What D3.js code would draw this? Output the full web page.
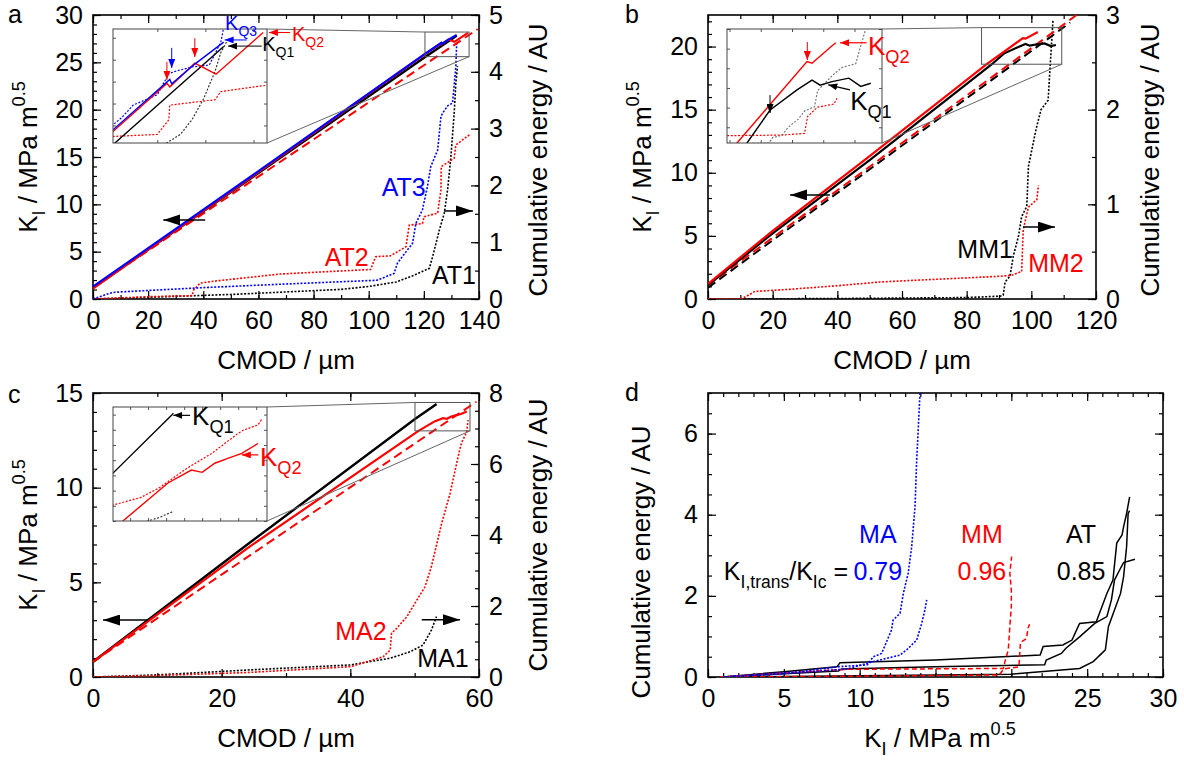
<!DOCTYPE html>
<html>
<head>
<meta charset="utf-8">
<script src="https://cdn.jsdelivr.net/npm/d3@7"></script>
<style>
body { margin: 0; background: #fff; }
svg { font-family: "Liberation Sans", Arial, sans-serif; }
</style>
</head>
<body>
<script>
const RED = '#ff0000', BLUE = '#0000ff', BLK = '#000000';
const TICK_FS = 25, TITLE_FS = 26, NOTE_FS = 25;

// ---- panel a : AT samples, K_I and cumulative energy vs CMOD
const aK_AT1 = [[0,1.2],[60,13.3],[120.6,25.6],[131.9,27.8]];
const aK_AT2 = [[0,1.1],[60,13.4],[120.4,25.86],[126.0,26.96],[126.3,26.88],[128.9,27.42],[131.1,27.17],[136.0,28.12]];
const aK_AT3 = [[0,1.3],[60,13.5],[120.4,25.9],[124.5,26.7],[126.3,27.05],[126.5,26.95],[128.9,27.4],[131.9,27.9]];
const aK_fit = [[0,1.2],[139.5,28.5]];
const aE_AT1 = [[0,0],[20,0.03],[50,0.08],[68,0.12],[90,0.17],[100,0.22],[110,0.3],[116.5,0.42],[122,0.54],[123.2,0.75],[125.6,1.21],[127.4,1.51],[128.6,1.92],[129.8,2.5],[131,3.27],[131.6,3.8],[132.2,4.1]];
const aE_AT2 = [[0,0],[10,0.02],[20,0.04],[36,0.06],[36.5,0.16],[38.9,0.28],[45,0.32],[68,0.44],[100.7,0.52],[102.5,0.745],[107.9,0.76],[113.5,0.92],[114.7,1.3],[119.5,1.33],[120.1,1.45],[125,1.51],[126.2,1.92],[126.3,2.33],[131,2.48],[131.6,2.71],[134,2.8],[136.5,2.89]];
const aE_AT3 = [[0,0],[3,0.05],[6,0.1],[8,0.12],[20,0.15],[40,0.2],[68,0.26],[103,0.33],[109.2,0.45],[110.4,0.63],[113.5,0.83],[115.9,0.98],[117.1,1.33],[119.5,1.57],[121.3,1.98],[122.5,2.33],[125,2.62],[126.2,3.21],[126.8,3.27],[128.6,3.4],[130.4,3.45],[131.6,4.09],[131.9,4.5]];

// ---- panel b : MM samples
const bK_MM1 = [[0,1.1],[20,5.2],[50,11.0],[87.8,18.6],[91.5,19.44],[95.8,19.95],[98.2,20.2],[99.5,20.07],[101.4,20.16],[104.1,20.25],[106,20.04],[107.6,20.12]];
const bK_MM2 = [[0,1.2],[20,5.4],[49.1,11.15],[86.2,18.6],[97.4,20.67],[98.2,20.63],[101.6,21.1],[102,21.15]];
const bK_fit1 = [[0,0.9],[112,21.9]];
const bK_fit2 = [[0,1.1],[114,22.5]];
const bE_MM1 = [[0,0],[40,0.005],[80,0.015],[90.3,0.03],[91.3,0.04],[91.9,0.18],[93.4,0.24],[94.4,0.45],[96,0.66],[97,0.87],[98.6,0.98],[99.1,1.4],[100.3,1.6],[101.5,1.8],[103,2.0],[105.2,2.1],[105.8,2.45],[106.2,2.67],[106.7,2.95]];
const bE_MM2 = [[0,0],[10,0],[12,0.03],[14.5,0.08],[24.3,0.1],[40,0.14],[53.2,0.18],[90.3,0.24],[93.9,0.25],[97,0.29],[97.5,0.73],[98.6,0.9],[99.1,0.97],[101.7,1.05],[102.2,1.2]];

// ---- panel c : MA samples
const cK_MA1 = [[0,0.8],[24.4,7.1],[50.05,13.63],[53.3,14.39],[53.4,14.42]];
const cK_MA2 = [[0,0.8],[24.4,6.9],[50.6,13.0],[53.1,13.5],[54.4,13.67],[55.0,13.64],[55.7,13.76],[56.5,13.83],[57.2,13.89],[58.1,14.02]];
const cK_fit = [[0,0.8],[59.6,14.54]];
const cE_MA1 = [[0,0],[10,0.06],[24.4,0.2],[40,0.34],[46.2,0.53],[49.3,0.71],[51.3,0.9],[52.6,1.32],[53.4,1.7]];
const cE_MA2 = [[0,0],[10,0.04],[24.4,0.13],[40,0.29],[45.1,0.57],[46.2,0.76],[46.4,1.23],[47.2,1.37],[48.8,1.7],[50.05,2.08],[51.6,2.54],[52.6,3.11],[54.2,4.33],[55.5,5.17],[56.3,5.83],[57.0,6.4],[57.3,6.6],[58.1,6.91],[58.3,7.24]];

// ---- panel d : cumulative energy vs K_I
const dMA1 = [[1,0],[6.06,0.13],[8.5,0.25],[10.5,0.3],[10.9,0.5],[11.45,0.58],[12.1,1.16],[12.2,1.4],[12.66,1.57],[12.88,2.06],[13.2,2.56],[13.43,3.21],[13.65,4.2],[13.76,5.35],[13.98,7.0]];
const dMA2 = [[1,0],[5,0.08],[9.2,0.2],[10.9,0.38],[12.66,0.54],[13.1,0.67],[13.76,0.91],[14.09,1.32],[14.3,1.65],[14.42,1.9]];
const dMM1 = [[0.8,0],[5,0.1],[9.15,0.19],[19.47,0.21],[19.58,0.38],[19.8,0.67],[19.9,1.24],[20.0,1.73],[20.0,2.14],[19.9,2.56],[20.02,2.97]];
const dMM2 = [[0.8,0],[10,0.02],[19.2,0.05],[19.5,0.2],[20.5,0.25],[20.6,0.85],[21.0,0.95],[21.1,1.2],[21.2,1.3]];
const dAT1 = [[1,0],[5,0.13],[8.5,0.25],[8.7,0.35],[15,0.42],[21.9,0.54],[22.1,0.75],[23.4,0.79],[24.0,0.91],[24.5,1.32],[25.6,1.36],[26.3,2.06],[26.7,2.39],[26.95,3.3],[27.3,3.5],[27.4,3.7],[27.6,4.03],[27.8,4.44]];
const dAT2 = [[1,0],[5,0.08],[8.6,0.15],[8.8,0.2],[15,0.25],[22.2,0.3],[22.3,0.42],[23.3,0.58],[23.6,0.71],[24.5,0.99],[25.5,1.32],[26.3,1.49],[26.6,1.9],[26.8,2.39],[27.2,2.68],[27.4,2.82],[28.15,2.9]];
const dAT3 = [[1,0],[10,0.03],[20,0.07],[24.5,0.21],[25.4,0.38],[26.2,0.67],[26.4,1.24],[27.2,2.06],[27.4,2.47],[27.6,3.21],[27.7,4.03],[27.8,4.1]];
const dRatios = [['MA','0.79',BLUE,11.2],['MM','0.96',RED,18.06],['AT','0.85',BLK,24.6]];

const svg = d3.select('body').append('svg').attr('width', 1184).attr('height', 760);
const defs = svg.append('defs');

function marker(id, color, w, h) {
  defs.append('marker').attr('id', id).attr('viewBox', '0 0 10 10')
    .attr('refX', 10).attr('refY', 5).attr('markerUnits', 'userSpaceOnUse')
    .attr('markerWidth', w).attr('markerHeight', h).attr('orient', 'auto')
    .attr('preserveAspectRatio', 'none')
    .append('path').attr('d', 'M0,0L10,5L0,10z').attr('fill', color);
}
marker('bigK', BLK, 17, 11);
marker('smK', BLK, 9, 7);
marker('smR', RED, 9, 7);
marker('smB', BLUE, 9, 7);

function axisSet(g, gen, sc, step, tr, labels, size, fs, pad) {
  const [d0, d1] = sc.domain();
  const maj = d3.range(d0, d1 + 1e-9, step[0]);
  const mnr = d3.range(d0, d1 + 1e-9, step[1]);
  g.append('g').attr('transform', tr)
    .call(gen(sc).tickValues(mnr).tickSize(-size / 2).tickFormat(''))
    .call(s => s.select('.domain').remove())
    .selectAll('line').attr('stroke-width', 1.2);
  const a = g.append('g').attr('transform', tr)
    .call(gen(sc).tickValues(maj).tickSize(-size).tickPadding(pad || 10)
      .tickFormat(labels ? d3.format('d') : ''))
    .attr('font-size', fs).attr('font-family', null)
    .call(s => s.select('.domain').remove());
  a.selectAll('line').attr('stroke-width', 1.2);
  a.selectAll('text').attr('fill', BLK);
}

function frame(o) {
  const g = svg.append('g');
  const x = d3.scaleLinear().domain(o.xd).range([o.l, o.r]);
  const y = d3.scaleLinear().domain(o.yd).range([o.b, o.t]);
  const y2 = o.y2d ? d3.scaleLinear().domain(o.y2d).range([o.b, o.t]) : null;
  const id = 'clip' + o.name;
  defs.append('clipPath').attr('id', id).append('rect')
    .attr('x', o.l).attr('y', o.t).attr('width', o.r - o.l).attr('height', o.b - o.t);
  axisSet(g, d3.axisBottom, x, o.xt, `translate(0,${o.b})`, true, 8, TICK_FS, 12);
  axisSet(g, d3.axisTop, x, o.xt, `translate(0,${o.t})`, false, 8, TICK_FS);
  axisSet(g, d3.axisLeft, y, o.yt, `translate(${o.l},0)`, true, 8, TICK_FS);
  if (y2) axisSet(g, d3.axisRight, y2, o.y2t, `translate(${o.r},0)`, true, 8, TICK_FS);
  else axisSet(g, d3.axisRight, y, o.yt, `translate(${o.r},0)`, false, 8, TICK_FS);
  g.append('rect').attr('x', o.l).attr('y', o.t).attr('width', o.r - o.l).attr('height', o.b - o.t)
    .attr('fill', 'none').attr('stroke', BLK).attr('stroke-width', 1.6);
  g.append('text').attr('x', o.letter[0]).attr('y', o.letter[1]).attr('font-size', 25).text(o.name);
  return { g, x, y, y2, o, clip: `url(#${id})` };
}

function rich(g, px, py, parts, color, fs, anchor) {
  const t = g.append('text').attr('x', px).attr('y', py).attr('fill', color)
    .attr('font-size', fs).attr('text-anchor', anchor || 'start');
  let shift = 0;
  parts.forEach(([s, k]) => {
    const target = k === 'sub' ? fs * 0.3 : k === 'sup' ? -fs * 0.45 : 0;
    t.append('tspan').text(s).attr('dy', target - shift)
      .attr('font-size', k === 'n' ? fs : fs * 0.7);
    shift = target;
  });
  return t;
}

const KI = [['K','n'],['I','sub'],[' / MPa m','n'],['0.5','sup']];
const CE = [['Cumulative energy / AU','n']];
const CM = [['CMOD / µm','n']];

function vtitle(g, cx, cy, parts) {
  rich(g, 0, 9, parts, BLK, TITLE_FS, 'middle').attr('transform', `translate(${cx},${cy}) rotate(-90)`);
}

function curve(g, data, x, y, color, kind, w, clip) {
  const dash = kind === 'dash' ? '9,5' : kind === 'dot' ? '2,1.6' : kind === 'dash2' ? '5,3' : null;
  g.append('path').datum(data)
    .attr('d', d3.line().x(d => x(d[0])).y(d => y(d[1])))
    .attr('fill', 'none').attr('stroke', color).attr('stroke-width', w)
    .attr('stroke-dasharray', dash).attr('clip-path', clip);
}

function arrow(g, x, y, p0, p1, mk, color, w) {
  g.append('line').attr('x1', x(p0[0])).attr('y1', y(p0[1]))
    .attr('x2', x(p1[0])).attr('y2', y(p1[1]))
    .attr('stroke', color).attr('stroke-width', w).attr('marker-end', `url(#${mk})`);
}

function inset(p, o) {
  const g = p.g.append('g');
  const x = d3.scaleLinear().domain(o.xd).range([o.l, o.r]);
  const y = d3.scaleLinear().domain(o.yd).range([o.b, o.t]);
  const y2 = d3.scaleLinear().domain(o.y2d).range([o.b, o.t]);
  const bx0 = p.x(o.xd[0]), bx1 = p.x(o.xd[1]), byT = p.y(o.yd[1]), byB = p.y(o.yd[0]);
  g.append('rect').attr('x', bx0).attr('y', byT).attr('width', bx1 - bx0).attr('height', byB - byT)
    .attr('fill', 'none').attr('stroke', '#555').attr('stroke-width', 1);
  g.append('line').attr('x1', o.r).attr('y1', o.t).attr('x2', bx0).attr('y2', byT)
    .attr('stroke', '#666').attr('stroke-width', 1);
  g.append('line').attr('x1', o.r).attr('y1', o.b).attr('x2', bx1).attr('y2', byB)
    .attr('stroke', '#666').attr('stroke-width', 1);
  g.append('rect').attr('x', o.l).attr('y', o.t).attr('width', o.r - o.l).attr('height', o.b - o.t)
    .attr('fill', '#fff').attr('stroke', 'none');
  const id = 'clipi' + p.o.name;
  defs.append('clipPath').attr('id', id).append('rect')
    .attr('x', o.l).attr('y', o.t).attr('width', o.r - o.l).attr('height', o.b - o.t);
  const ax = (gen, sc, tr) => g.append('g').attr('transform', tr)
    .call(gen(sc).ticks(o.nt || 5).tickSize(-3).tickFormat(''))
    .call(s => s.select('.domain').remove())
    .selectAll('line').attr('stroke', '#555');
  ax(d3.axisBottom, x, `translate(0,${o.b})`);
  ax(d3.axisTop, x, `translate(0,${o.t})`);
  ax(d3.axisLeft, y, `translate(${o.l},0)`);
  ax(d3.axisRight, y, `translate(${o.r},0)`);
  o.series.forEach(s => curve(g, s.d, x, s.e ? y2 : y, s.c, s.k, s.k === 'dot' ? 1.2 : 1.4, `url(#${id})`));
  g.append('rect').attr('x', o.l).attr('y', o.t).attr('width', o.r - o.l).attr('height', o.b - o.t)
    .attr('fill', 'none').attr('stroke', '#444').attr('stroke-width', 1);
  return { g, x, y, y2 };
}

// ================= panel a
const pa = frame({ name: 'a', l: 93, r: 479, t: 15, b: 299, xd: [0, 140], yd: [0, 30], y2d: [0, 5],
  xt: [20, 10], yt: [5, 1], y2t: [1, 0.5], letter: [8, 23] });
rich(pa.g, 286, 369, CM, BLK, TITLE_FS, 'middle');
vtitle(pa.g, 28, 157, KI);
vtitle(pa.g, 538, 160, CE);
curve(pa.g, aE_AT1, pa.x, pa.y2, BLK, 'dot', 1.6, pa.clip);
curve(pa.g, aE_AT2, pa.x, pa.y2, RED, 'dot', 1.6, pa.clip);
curve(pa.g, aE_AT3, pa.x, pa.y2, BLUE, 'dot', 1.6, pa.clip);
curve(pa.g, aK_fit, pa.x, pa.y, RED, 'dash', 2, pa.clip);
curve(pa.g, aK_AT1, pa.x, pa.y, BLK, 'solid', 2.4, pa.clip);
curve(pa.g, aK_AT2, pa.x, pa.y, RED, 'solid', 2.2, pa.clip);
curve(pa.g, aK_AT3, pa.x, pa.y, BLUE, 'solid', 2.2, pa.clip);
arrow(pa.g, pa.x, pa.y, [40.7, 8.35], [25.5, 8.35], 'bigK', BLK, 1.5);
arrow(pa.g, pa.x, pa.y2, [127.3, 1.55], [137.8, 1.55], 'bigK', BLK, 1.5);
rich(pa.g, pa.x(112.7), pa.y2(1.81), [['AT3','n']], BLUE, NOTE_FS, 'middle');
rich(pa.g, pa.x(92), pa.y2(0.58), [['AT2','n']], RED, NOTE_FS, 'middle');
rich(pa.g, pa.x(130.9), pa.y2(0.26), [['AT1','n']], BLK, NOTE_FS, 'middle');
const ia = inset(pa, { l: 113, r: 267, t: 29, b: 143, xd: [120.4, 136.4], yd: [25.6, 28.2], y2d: [1.27, 4.46],
  series: [
    { d: aE_AT1, e: 1, c: '#333', k: 'dot' }, { d: aE_AT2, e: 1, c: RED, k: 'dot' }, { d: aE_AT3, e: 1, c: BLUE, k: 'dot' },
    { d: aK_AT1, c: BLK, k: 'solid' }, { d: aK_AT2, c: RED, k: 'solid' }, { d: aK_AT3, c: BLUE, k: 'solid' }] });
arrow(pa.g, ia.x, ia.y, [126.0, 27.45], [126.0, 27.04], 'smR', RED, 1);
arrow(pa.g, ia.x, ia.y, [128.9, 27.99], [128.9, 27.56], 'smR', RED, 1);
arrow(pa.g, ia.x, ia.y, [126.5, 27.77], [126.5, 27.31], 'smB', BLUE, 1);
arrow(pa.g, ia.x, ia.y, [134.3, 27.95], [132.0, 27.95], 'smB', BLUE, 1);
arrow(pa.g, ia.x, ia.y, [135.85, 27.81], [132.35, 27.81], 'smK', BLK, 1);
arrow(pa.g, ia.x, ia.y, [138.8, 28.12], [136.6, 28.12], 'smR', RED, 1);
rich(pa.g, ia.x(132.04), ia.y(28.18), [['K','n'],['Q3','sub']], BLUE, 20);
rich(pa.g, ia.x(139.0), ia.y(27.93), [['K','n'],['Q2','sub']], RED, 20);
rich(pa.g, ia.x(135.9), ia.y(27.7), [['K','n'],['Q1','sub']], BLK, 20);

// ================= panel b
const pb = frame({ name: 'b', l: 708, r: 1096, t: 15, b: 299, xd: [0, 120], yd: [0, 22.5], y2d: [0, 3],
  xt: [20, 10], yt: [5, 1], y2t: [1, 0.5], letter: [625, 23] });
rich(pb.g, 902, 369, CM, BLK, TITLE_FS, 'middle');
vtitle(pb.g, 642, 157, KI);
vtitle(pb.g, 1150, 160, CE);
curve(pb.g, bE_MM1, pb.x, pb.y2, BLK, 'dot', 1.6, pb.clip);
curve(pb.g, bE_MM2, pb.x, pb.y2, RED, 'dot', 1.6, pb.clip);
curve(pb.g, bK_fit1, pb.x, pb.y, BLK, 'dash', 2, pb.clip);
curve(pb.g, bK_fit2, pb.x, pb.y, RED, 'dash', 2, pb.clip);
curve(pb.g, bK_MM1, pb.x, pb.y, BLK, 'solid', 2.2, pb.clip);
curve(pb.g, bK_MM2, pb.x, pb.y, RED, 'solid', 2.2, pb.clip);
arrow(pb.g, pb.x, pb.y, [37.7, 8.24], [25.4, 8.24], 'bigK', BLK, 1.5);
arrow(pb.g, pb.x, pb.y2, [97.4, 0.76], [107.3, 0.76], 'bigK', BLK, 1.5);
rich(pb.g, pb.x(85.7), pb.y2(0.433), [['MM1','n']], BLK, NOTE_FS, 'middle');
rich(pb.g, pb.x(107.6), pb.y2(0.285), [['MM2','n']], RED, NOTE_FS, 'middle');
const ib = inset(pb, { l: 727, r: 882, t: 29, b: 143, xd: [84.6, 109.4], yd: [18.6, 21.5], y2d: [0.04, 3.0],
  series: [
    { d: bE_MM1, e: 1, c: '#777', k: 'dot' }, { d: bE_MM2, e: 1, c: RED, k: 'dot' },
    { d: bK_MM1, c: BLK, k: 'solid' }, { d: bK_MM2, c: RED, k: 'solid' }] });
arrow(pb.g, ib.x, ib.y, [97.45, 21.17], [97.45, 20.71], 'smR', RED, 1);
arrow(pb.g, ib.x, ib.y, [91.48, 19.82], [91.48, 19.36], 'smK', BLK, 1);
arrow(pb.g, ib.x, ib.y, [106.95, 21.15], [102.68, 21.15], 'smR', RED, 1.2);
arrow(pb.g, ib.x, ib.y, [104.28, 19.95], [100.8, 20.08], 'smK', BLK, 1.2);
rich(pb.g, ib.x(107.16), ib.y(20.84), [['K','n'],['Q2','sub']], RED, 26);
rich(pb.g, ib.x(104.3), ib.y(19.44), [['K','n'],['Q1','sub']], BLK, 26);

// ================= panel c
const pc = frame({ name: 'c', l: 93, r: 479, t: 393, b: 677, xd: [0, 60], yd: [0, 15], y2d: [0, 8],
  xt: [20, 10], yt: [5, 1], y2t: [2, 0.5], letter: [8, 403] });
rich(pc.g, 286, 747, CM, BLK, TITLE_FS, 'middle');
vtitle(pc.g, 28, 535, KI);
vtitle(pc.g, 538, 535, CE);
curve(pc.g, cE_MA1, pc.x, pc.y2, BLK, 'dot', 1.6, pc.clip);
curve(pc.g, cE_MA2, pc.x, pc.y2, RED, 'dot', 1.6, pc.clip);
curve(pc.g, cK_fit, pc.x, pc.y, RED, 'dash', 2, pc.clip);
curve(pc.g, cK_MA1, pc.x, pc.y, BLK, 'solid', 2.4, pc.clip);
curve(pc.g, cK_MA2, pc.x, pc.y, RED, 'solid', 2.2, pc.clip);
arrow(pc.g, pc.x, pc.y, [8.55, 3.01], [1.55, 3.01], 'bigK', BLK, 1.5);
arrow(pc.g, pc.x, pc.y2, [51.1, 1.61], [57.05, 1.61], 'bigK', BLK, 1.5);
rich(pc.g, pc.x(41.66), pc.y2(1.04), [['MA2','n']], RED, NOTE_FS, 'middle');
rich(pc.g, pc.x(54.4), pc.y2(0.28), [['MA1','n']], BLK, NOTE_FS, 'middle');
const ic = inset(pc, { l: 113, r: 267, t: 407, b: 521, xd: [50.05, 58.6], yd: [13.0, 14.5], y2d: [1.12, 7.99], nt: 9,
  series: [
    { d: cE_MA1, e: 1, c: '#333', k: 'dot' }, { d: cE_MA2, e: 1, c: RED, k: 'dot' },
    { d: cK_MA1, c: BLK, k: 'solid' }, { d: cK_MA2, c: RED, k: 'solid' }] });
arrow(pc.g, ic.x, ic.y, [54.33, 14.39], [53.4, 14.39], 'smK', BLK, 1.2);
arrow(pc.g, ic.x, ic.y, [58.12, 13.87], [57.2, 13.87], 'smR', RED, 1.2);
rich(pc.g, ic.x(54.44), ic.y(14.26), [['K','n'],['Q1','sub']], BLK, 26);
rich(pc.g, ic.x(58.21), ic.y(13.72), [['K','n'],['Q2','sub']], RED, 26);

// ================= panel d
const pd = frame({ name: 'd', l: 708, r: 1163, t: 393, b: 677, xd: [0, 30], yd: [0, 7],
  xt: [5, 1], yt: [2, 0.5], letter: [625, 401] });
rich(pd.g, 940, 747, KI, BLK, TITLE_FS, 'middle');
vtitle(pd.g, 641, 562, CE);
[dAT1, dAT2, dAT3].forEach(d => curve(pd.g, d, pd.x, pd.y, BLK, 'solid', 1.5, pd.clip));
[dMM1, dMM2].forEach(d => curve(pd.g, d, pd.x, pd.y, RED, 'dash2', 1.5, pd.clip));
[dMA1, dMA2].forEach(d => curve(pd.g, d, pd.x, pd.y, BLUE, 'dot', 1.6, pd.clip));
dRatios.forEach(([name, val, col, xv]) => {
  rich(pd.g, pd.x(xv), pd.y(3.30), [[name,'n']], col, NOTE_FS, 'middle');
  rich(pd.g, pd.x(xv), pd.y(2.39), [[val,'n']], col, NOTE_FS, 'middle');
});
rich(pd.g, pd.x(9.23), pd.y(2.39), [['K','n'],['I,trans','sub'],['/K','n'],['Ic','sub'],[' =','n']], BLK, NOTE_FS, 'end');
</script>
</body>
</html>
